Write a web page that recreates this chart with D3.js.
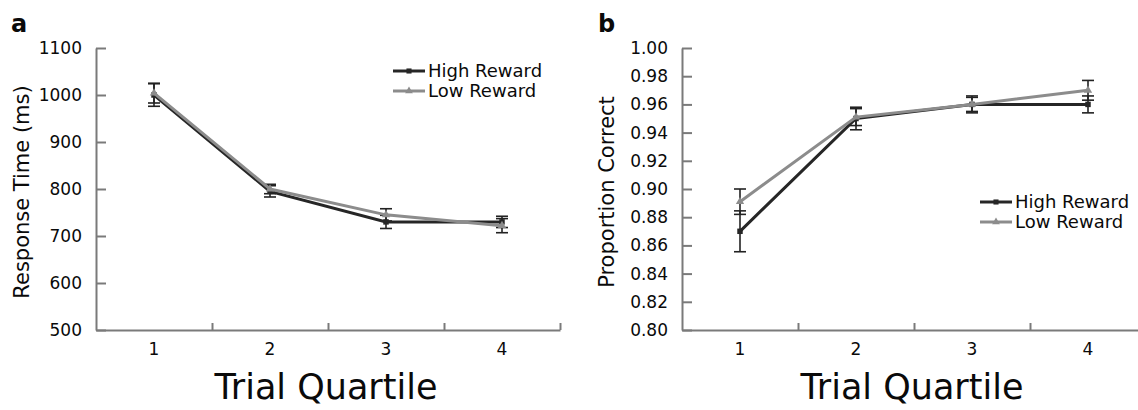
<!DOCTYPE html>
<html lang="en">
<head>
<meta charset="utf-8">
<title>Reward by Trial Quartile</title>
<script src="https://d3js.org/d3.v7.min.js"></script>
<style>
    body { margin: 0; background: white; }
    svg { font-family: "DejaVu Sans", sans-serif; }
</style>
</head>
<body>
<svg id="chart" width="1138" height="410"></svg>
<script>
    const quartiles = [1, 2, 3, 4];

    // panel a: response time (ms)
    const rtHigh = [1000, 795, 730, 730];
    const rtHighErr = [24, 12, 14, 12];
    const rtLow = [1004, 800, 745, 722];
    const rtLowErr = [21, 10, 13, 15];
    const rtTicks = [500, 600, 700, 800, 900, 1000, 1100];

    // panel b: proportion correct
    const pcHigh = [0.870, 0.950, 0.960, 0.960];
    const pcHighErr = [0.0145, 0.008, 0.006, 0.006];
    const pcLow = [0.891, 0.951, 0.960, 0.970];
    const pcLowErr = [0.009, 0.006, 0.005, 0.007];
    const pcTicks = [0.80, 0.82, 0.84, 0.86, 0.88, 0.90, 0.92, 0.94, 0.96, 0.98, 1.00];

    const seriesNames = ["High Reward", "Low Reward"];
    const seriesColors = ["#262626", "#8c8c8c"];

    const svg = d3.select("#chart");
    const axisColor = "#7a7a7a";
    const font = '"DejaVu Sans", sans-serif';
    const ink = "#0a0a0a";

    function drawPanel(opt) {
        const x = d3.scaleLinear().domain([0.5, 4.5]).range([opt.left, opt.left + 464]);
        const y = d3.scaleLinear().domain(opt.domain).range([330, 48]);
        const g = svg.append("g");

        // x axis: boundary ticks pointing inward, labels at the quartiles
        const xAxis = g.append("g")
            .attr("transform", "translate(0,330)")
            .call(d3.axisBottom(x).tickValues([1.5, 2.5, 3.5, 4.5]).tickSizeInner(-7).tickSizeOuter(0).tickFormat(""));
        xAxis.select(".domain").attr("stroke", axisColor).attr("stroke-width", 2);
        xAxis.selectAll(".tick line").attr("stroke", axisColor).attr("stroke-width", 2);

        g.append("g").selectAll("text")
            .data(quartiles)
            .join("text")
            .attr("x", d => x(d))
            .attr("y", 355)
            .attr("text-anchor", "middle")
            .attr("font-size", 17)
            .attr("fill", ink)
            .text(d => d);

        const yAxis = g.append("g")
            .attr("transform", `translate(${opt.left},0)`)
            .call(d3.axisLeft(y).tickValues(opt.ticks).tickSizeInner(-10).tickSizeOuter(0)
                .tickPadding(14).tickFormat(opt.format));
        yAxis.select(".domain").attr("stroke", axisColor).attr("stroke-width", 2);
        yAxis.selectAll(".tick line").attr("stroke", axisColor).attr("stroke-width", 2);
        yAxis.selectAll(".tick text")
            .attr("font-size", 17)
            .attr("fill", ink)
            .style("font-family", font);

        // axis titles
        g.append("text")
            .attr("transform", `translate(${opt.titleX},192) rotate(-90)`)
            .attr("text-anchor", "middle")
            .attr("font-size", 21)
            .attr("fill", ink)
            .text(opt.yTitle);

        g.append("text")
            .attr("x", opt.left + 230)
            .attr("y", 399)
            .attr("text-anchor", "middle")
            .attr("font-size", 35)
            .attr("fill", ink)
            .text("Trial Quartile");

        g.append("text")
            .attr("x", opt.letterX)
            .attr("y", 32)
            .attr("font-size", 24)
            .attr("font-weight", "bold")
            .attr("fill", ink)
            .text(opt.letter);

        const line = d3.line().x((d, i) => x(quartiles[i])).y(d => y(d));
        const series = [
            { vals: opt.high, err: opt.highErr, color: seriesColors[0], shape: d3.symbolSquare },
            { vals: opt.low, err: opt.lowErr, color: seriesColors[1], shape: d3.symbolTriangle }
        ];

        // error bars (drawn black, under the lines)
        series.forEach(s => {
            s.vals.forEach((v, i) => {
                const cx = x(quartiles[i]);
                const eb = g.append("g").attr("stroke", "#222").attr("stroke-width", 1.6);
                eb.append("line").attr("x1", cx).attr("x2", cx).attr("y1", y(v - s.err[i])).attr("y2", y(v + s.err[i]));
                eb.append("line").attr("x1", cx - 6).attr("x2", cx + 6).attr("y1", y(v - s.err[i])).attr("y2", y(v - s.err[i]));
                eb.append("line").attr("x1", cx - 6).attr("x2", cx + 6).attr("y1", y(v + s.err[i])).attr("y2", y(v + s.err[i]));
            });
        });

        series.forEach(s => {
            g.append("path")
                .datum(s.vals)
                .attr("d", line)
                .attr("fill", "none")
                .attr("stroke", s.color)
                .attr("stroke-width", 3);
            g.append("g").selectAll("path")
                .data(s.vals)
                .join("path")
                .attr("transform", (d, i) => `translate(${x(quartiles[i])},${y(d)})`)
                .attr("d", d3.symbol(s.shape, 30))
                .attr("fill", s.color);
        });

        // legend
        const leg = g.append("g");
        seriesNames.forEach((name, i) => {
            const ly = opt.legendY + i * 20;
            leg.append("line")
                .attr("x1", opt.legendX).attr("x2", opt.legendX + 32)
                .attr("y1", ly).attr("y2", ly)
                .attr("stroke", seriesColors[i]).attr("stroke-width", 3);
            leg.append("path")
                .attr("transform", `translate(${opt.legendX + 16},${ly})`)
                .attr("d", d3.symbol(series[i].shape, 26))
                .attr("fill", seriesColors[i]);
            leg.append("text")
                .attr("x", opt.legendX + 35)
                .attr("y", ly)
                .attr("dy", "0.35em")
                .attr("font-size", 18)
                .attr("fill", ink)
                .text(name);
        });
    }

    drawPanel({
        left: 96, domain: [500, 1100], ticks: rtTicks, format: d3.format("d"),
        high: rtHigh, highErr: rtHighErr, low: rtLow, lowErr: rtLowErr,
        yTitle: "Response Time (ms)", titleX: 29, letter: "a", letterX: 11,
        legendX: 393, legendY: 71
    });

    drawPanel({
        left: 682, domain: [0.8, 1.0], ticks: pcTicks, format: d3.format(".2f"),
        high: pcHigh, highErr: pcHighErr, low: pcLow, lowErr: pcLowErr,
        yTitle: "Proportion Correct", titleX: 614, letter: "b", letterX: 598,
        legendX: 980, legendY: 202
    });
</script>
</body>
</html>
